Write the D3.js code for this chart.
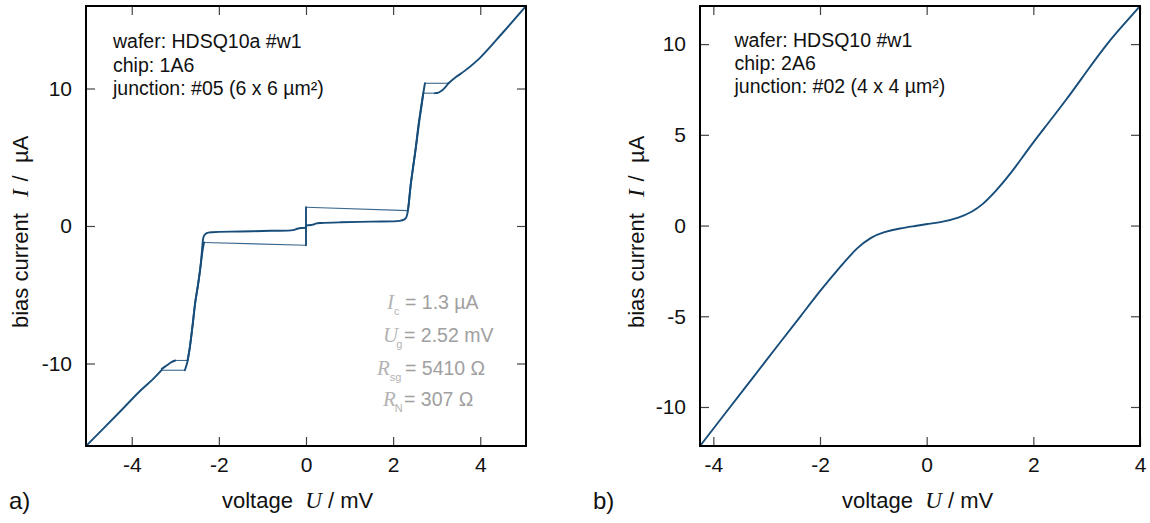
<!DOCTYPE html>
<html><head><meta charset="utf-8">
<script src="https://cdn.jsdelivr.net/npm/d3@7"></script>
<style>body{margin:0;background:#fff}svg{display:block}</style>
</head><body>
<svg id="chart" width="1150" height="523"></svg>
<script>
// ---------------- data ----------------
// panel a) — hysteretic I–V curve of junction #05 (U in mV, I in µA)
const aXTicks = [-4, -2, 0, 2, 4];
const aYTicks = [-10, 0, 10];
const aXDomain = [-5.05, 5.05];
const aYDomain = [-16, 16];

const aSupercurrent = [[0, -1.40], [0, 1.36]];
const aGapRisePosOut = [[2.34, 1.12], [2.36, 1.6], [2.40, 2.9], [2.46, 4.3], [2.52, 5.66], [2.60, 7.6], [2.66, 8.9], [2.70, 9.8], [2.73, 10.38]];
const aNormalPos = [[3.27, 10.38], [3.45, 10.85], [3.65, 11.3], [4.0, 12.25], [4.5, 14.0], [5.05, 16.0]];
const aBackbendPos = [[3.27, 10.38], [3.2, 10.1], [3.12, 9.85], [3.04, 9.7], [2.96, 9.66]];
const aReturnPos = [[2.69, 9.66], [2.64, 8.6], [2.58, 7.3], [2.52, 5.7], [2.45, 4.1], [2.40, 2.9], [2.36, 1.7], [2.33, 0.95], [2.30, 0.62], [2.25, 0.46], [2.15, 0.37], [1.5, 0.32], [0.8, 0.27], [0.35, 0.22], [0.24, 0.19], [0.16, 0.1], [0.06, 0.05], [0, 0.04]];
const aGapRiseNegOut = [[-2.34, -1.2], [-2.37, -1.7], [-2.42, -2.9], [-2.48, -4.3], [-2.54, -5.5], [-2.61, -7.4], [-2.67, -8.9], [-2.72, -9.85], [-2.78, -10.49]];
const aNormalNeg = [[-3.31, -10.47], [-3.5, -11.1], [-3.81, -12.0], [-4.3, -13.6], [-5.05, -16.0]];
const aBackbendNeg = [[-3.31, -10.39], [-3.2, -10.15], [-3.08, -9.88], [-3.0, -9.78]];
const aReturnNeg = [[-2.72, -9.78], [-2.67, -8.9], [-2.61, -7.4], [-2.54, -5.5], [-2.48, -4.3], [-2.42, -2.9], [-2.38, -1.5], [-2.36, -0.9], [-2.33, -0.66], [-2.28, -0.52], [-2.15, -0.45], [-1.5, -0.4], [-0.8, -0.35], [-0.3, -0.3], [-0.2, -0.2], [-0.1, -0.15], [0, -0.13]];
// switching (jump) lines of the sweep
const aSwitchLines = [
  [[0, 1.36], [2.34, 1.12]],
  [[0, -1.40], [-2.34, -1.2]],
  [[2.73, 10.38], [3.27, 10.38]],
  [[2.96, 9.66], [2.69, 9.66]],
  [[-2.78, -10.49], [-3.31, -10.49]],
  [[-3.0, -9.78], [-2.72, -9.78]]
];
const aInfo = ["wafer: HDSQ10a #w1", "chip: 1A6", "junction: #05 (6 x 6 \u00b5m\u00b2)"];
const aParamSymbols = ["I", "U", "R", "R"];
const aParamSubs = ["c", "g", "sg", "N"];
const aParamValues = ["= 1.3 \u00b5A", "= 2.52 mV", "= 5410 \u03a9", "= 307 \u03a9"];

// panel b) — I–V curve of junction #02
const bXTicks = [-4, -2, 0, 2, 4];
const bYTicks = [-10, -5, 0, 5, 10];
const bXDomain = [-4.25, 4];
const bYDomain = [-12.15, 12.1];
const bVoltage = [-4.25, -3.75, -3.25, -2.75, -2.35, -2.0, -1.6, -1.3, -1.05, -0.8, -0.5, -0.2, 0, 0.3, 0.6, 0.85, 1.05, 1.3, 1.6, 1.9, 2.2, 2.6, 3.0, 3.4, 3.7, 4.0];
const bCurrent = [-12.15, -10.25, -8.35, -6.45, -4.95, -3.6, -2.2, -1.2, -0.65, -0.35, -0.15, -0.02, 0.08, 0.2, 0.42, 0.75, 1.15, 1.9, 2.95, 4.2, 5.35, 6.85, 8.5, 10.1, 11.1, 12.1];
const bInfo = ["wafer: HDSQ10 #w1", "chip: 2A6", "junction: #02 (4 x 4 \u00b5m\u00b2)"];

// ---------------- drawing ----------------
const svg = d3.select("#chart");
const SANS = "'Liberation Sans', Arial, Helvetica, sans-serif";
const SERIF = "'Liberation Serif', 'Times New Roman', serif";
const CURVE = "#174d7a";

function panel(o) {
  const g = svg.append("g");
  const x = d3.scaleLinear().domain(o.xDomain).range([o.x0, o.x1]);
  const y = d3.scaleLinear().domain(o.yDomain).range([o.y1, o.y0]);
  const fmt = d => String(d);
  const styleAxis = s => {
    s.select(".domain").remove();
    s.selectAll(".tick line").attr("stroke", "#444").attr("stroke-width", 1.2);
    s.selectAll(".tick text").attr("font-family", SANS).attr("font-size", 21).attr("fill", "#111");
  };
  g.append("g").attr("transform", `translate(0,${o.y1})`)
    .call(d3.axisBottom(x).tickValues(o.xTicks).tickSizeInner(-9).tickSizeOuter(0).tickPadding(11).tickFormat(fmt)).call(styleAxis);
  g.append("g").attr("transform", `translate(0,${o.y0})`)
    .call(d3.axisTop(x).tickValues(o.xTicks).tickSizeInner(-9).tickSizeOuter(0).tickFormat("")).call(styleAxis);
  g.append("g").attr("transform", `translate(${o.x0},0)`)
    .call(d3.axisLeft(y).tickValues(o.yTicks).tickSizeInner(-9).tickSizeOuter(0).tickPadding(14).tickFormat(fmt)).call(styleAxis);
  g.append("g").attr("transform", `translate(${o.x1},0)`)
    .call(d3.axisRight(y).tickValues(o.yTicks).tickSizeInner(-9).tickSizeOuter(0).tickFormat("")).call(styleAxis);

  const clipId = "clip" + o.id;
  svg.append("clipPath").attr("id", clipId).append("rect")
    .attr("x", o.x0).attr("y", o.y0).attr("width", o.x1 - o.x0).attr("height", o.y1 - o.y0);
  const plot = g.append("g").attr("clip-path", `url(#${clipId})`);
  o.draw(plot, x, y);

  g.append("rect").attr("x", o.x0).attr("y", o.y0).attr("width", o.x1 - o.x0).attr("height", o.y1 - o.y0)
    .attr("fill", "none").attr("stroke", "#000").attr("stroke-width", 2);

  g.selectAll("text.info").data(o.info).enter().append("text").attr("class", "info")
    .attr("x", o.infoX).attr("y", (d, i) => o.infoY[i])
    .attr("font-family", SANS).attr("font-size", 19.5).attr("fill", "#111").text(d => d);

  const xl = g.append("text").attr("x", o.xLabelX).attr("y", 508)
    .attr("font-family", SANS).attr("font-size", 22).attr("fill", "#111");
  xl.append("tspan").text("voltage\u00a0\u00a0");
  xl.append("tspan").attr("font-family", SERIF).attr("font-style", "italic").attr("font-size", 23).text("U");
  xl.append("tspan").text("\u00a0/\u00a0mV");

  const yl = g.append("text").attr("transform", `translate(${o.yLabelX},328) rotate(-90)`)
    .attr("font-family", SANS).attr("font-size", 22).attr("fill", "#111");
  yl.append("tspan").text("bias current");
  yl.append("tspan").attr("dx", 16).attr("font-family", SERIF).attr("font-style", "italic").attr("font-size", 23).text("I");
  yl.append("tspan").attr("dx", 8).text("/\u00a0\u00a0\u00b5A");

  g.append("text").attr("x", o.letterX).attr("y", 509).attr("font-family", SANS).attr("font-size", 24)
    .attr("fill", "#111").text(o.letter);
}

const lineGen = (x, y) => d3.line().x(d => x(d[0])).y(d => y(d[1]));

panel({
  id: "a", x0: 86, x1: 526, y0: 6, y1: 446,
  xDomain: aXDomain, yDomain: aYDomain, xTicks: aXTicks, yTicks: aYTicks,
  info: aInfo, infoX: 113, infoY: [48, 71.5, 94.5],
  xLabelX: 222, yLabelX: 28, letter: "a)", letterX: 9,
  draw: (p, x, y) => {
    const thin = lineGen(x, y);
    p.selectAll("path.sw").data(aSwitchLines).enter().append("path").attr("class", "sw")
      .attr("d", thin).attr("fill", "none").attr("stroke", CURVE).attr("stroke-width", 1.1).attr("stroke-opacity", 0.85);
    const smooth = lineGen(x, y).curve(d3.curveCatmullRom.alpha(0.5));
    const branches = [aSupercurrent, aGapRisePosOut, aNormalPos, aBackbendPos, aReturnPos,
                      aGapRiseNegOut, aNormalNeg, aBackbendNeg, aReturnNeg];
    p.selectAll("path.br").data(branches).enter().append("path").attr("class", "br")
      .attr("d", smooth).attr("fill", "none").attr("stroke", CURVE).attr("stroke-width", 1.9)
      .attr("stroke-linejoin", "round").attr("stroke-linecap", "round");
  }
});

// parameter block in panel a
(function () {
  const xs = [387, 383, 377, 383];
  const subDx = [0, -2, 0, -1];
  const eqX = [405, 404, 405, 404];
  const ys = [309, 342, 374.5, 406];
  aParamSymbols.forEach((s, i) => {
    const t = svg.append("text").attr("x", xs[i]).attr("y", ys[i]);
    t.append("tspan").attr("font-family", SERIF).attr("font-style", "italic").attr("font-size", 21)
      .attr("fill", "#b4b4b4").text(s);
    t.append("tspan").attr("font-family", SANS).attr("font-size", 11).attr("dx", subDx[i]).attr("dy", 6)
      .attr("fill", "#b4b4b4").text(aParamSubs[i]);
    t.append("tspan").attr("x", eqX[i]).attr("dy", -6).attr("font-family", SANS).attr("font-size", 19.5)
      .attr("fill", "#a0a0a0").text(aParamValues[i]);
  });
})();

panel({
  id: "b", x0: 700, x1: 1140, y0: 6, y1: 446,
  xDomain: bXDomain, yDomain: bYDomain, xTicks: bXTicks, yTicks: bYTicks,
  info: bInfo, infoX: 734.5, infoY: [46.5, 69.5, 92.5],
  xLabelX: 842, yLabelX: 644, letter: "b)", letterX: 593,
  draw: (p, x, y) => {
    const pts = bVoltage.map((u, i) => [u, bCurrent[i]]);
    p.append("path").attr("d", lineGen(x, y).curve(d3.curveBasis)(pts))
      .attr("fill", "none").attr("stroke", CURVE).attr("stroke-width", 1.9);
  }
});
</script>
</body></html>
